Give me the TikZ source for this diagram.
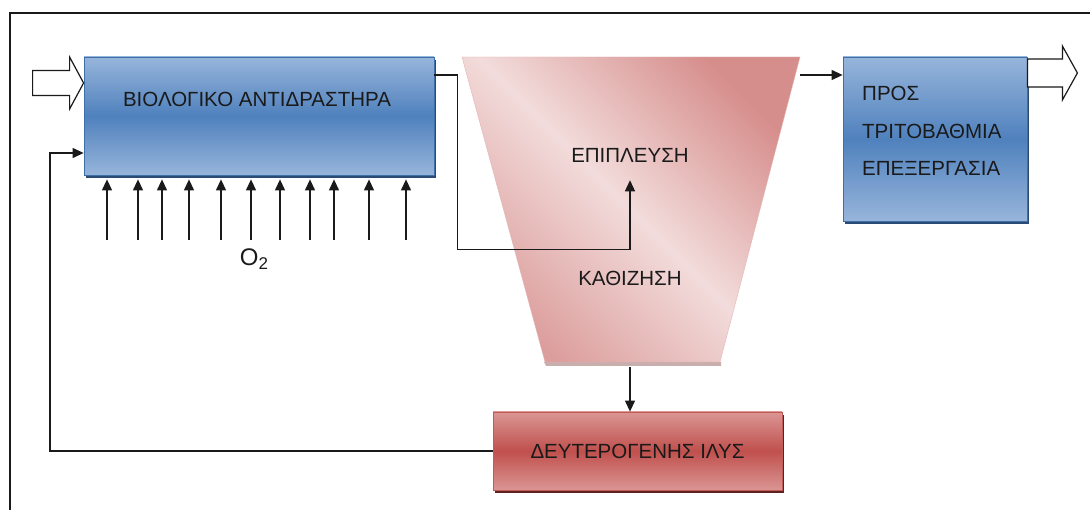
\documentclass[tikz,border=0pt]{standalone}
\usepackage{fontspec}
\setmainfont{Liberation Sans}
\usetikzlibrary{arrows.meta,calc,shadows}
\definecolor{bluelt}{HTML}{97B5DB}
\definecolor{bluedk}{HTML}{4F81BD}
\definecolor{blueln}{HTML}{3F6FA8}
\definecolor{bluesh}{HTML}{2A4B73}
\definecolor{redlt}{HTML}{DA9694}
\definecolor{reddk}{HTML}{C0504D}
\definecolor{redln}{HTML}{C25A57}
\definecolor{redsh}{HTML}{5E2221}
\definecolor{pinkdk}{HTML}{D68E8C}
\definecolor{pinklt}{HTML}{F2DCDB}
\definecolor{pinkln}{HTML}{E4B4B2}
\definecolor{pinksh}{HTML}{C8AEAD}
\definecolor{ink}{HTML}{1A1A1A}

\begin{document}
\begin{tikzpicture}[x=1pt,y=-1pt,
  txt/.style={font=\fontsize{20.5}{24}\selectfont,inner sep=0pt,text=ink},
  bluebox/.style={draw=blueln,line width=.8pt,top color=bluelt,bottom color=bluelt,middle color=bluedk,
    drop shadow={shadow xshift=2pt,shadow yshift=-3pt,fill=bluesh,opacity=1}},
  redbox/.style={draw=redln,line width=.8pt,top color=redlt,bottom color=redlt,middle color=reddk,
    drop shadow={shadow xshift=2pt,shadow yshift=-3pt,fill=redsh,opacity=1}},
  flow/.style={draw=ink,line width=1.2pt,-{Triangle[length=11pt,width=10pt]}},
  hollow/.style={draw=ink,line width=1.2pt,fill=white}]
\useasboundingbox (0,0) rectangle (1090,510);
% frame
\draw[ink,line width=1.3pt] (10,510) -- (10,13) -- (1090,13);

% boxes
\node[bluebox,minimum width=350pt,minimum height=118pt] (bio) at (259,116) {};
\node[txt] (biotxt) at (257,99) {ΒΙΟΛΟΓΙΚΟ ΑΝΤΙΔΡΑΣΤΗΡΑ};
\node[bluebox,minimum width=184pt,minimum height=164pt] (tert) at (935,139) {};
\node[txt,anchor=west,align=left,font=\fontsize{20.5}{37.5}\selectfont] (terttxt) at (862,131)
  {ΠΡΟΣ\\ΤΡΙΤΟΒΑΘΜΙΑ\\ΕΠΕΞΕΡΓΑΣΙΑ};
\node[redbox,minimum width=289pt,minimum height=78pt,txt] (sludge) at (637.5,451) {ΔΕΥΤΕΡΟΓΕΝΗΣ ΙΛΥΣ};

% settling tank
\coordinate (sepA) at (462,57);
\coordinate (sepB) at (800,57);
\coordinate (sepC) at (720,362);
\coordinate (sepD) at (545,362);
\fill[pinksh] ($(sepD)+(-1,0)$) -- ($(sepC)+(1,0)$) -- ($(sepC)+(1,4)$) -- ($(sepD)+(1,4)$) -- cycle;
\shade[draw=pinkln,top color=pinkdk,bottom color=pinkdk!80!pinklt,middle color=pinklt,shading angle=-45]
  (sepA) -- (sepB) -- (sepC) -- (sepD) -- cycle;
\node[txt] (float) at (630,155) {ΕΠΙΠΛΕΥΣΗ};
\node[txt] (settle) at (630,278) {ΚΑΘΙΖΗΣΗ};

% flows
\coordinate (inA) at (bio.west |- 0,83);
\draw[hollow] (inA) -- ++(-14,-26) -- ++(0,13.5) -- ++(-37,0) -- ++(0,25) -- ++(37,0) -- ++(0,13.5) -- cycle;
\coordinate (outA) at ($(tert.east |- 0,73)+(50,0)$);
\draw[hollow] (outA) -- ++(-15,-27) -- ++(0,13) -- ++(-35,0) -- ++(0,28) -- ++(35,0) -- ++(0,13) -- cycle;
\draw[flow] (bio.east |- 0,75) -- ++(23,0) |- ($(float.south)+(0,87)$) -- ($(float.south)+(0,18)$);
\draw[flow] (sepB |- 0,75) -- (tert.west |- 0,75);
\draw[flow] (settle.south |- 0,367) -- (settle.south |- sludge.north);
\draw[flow] (sludge.west) -| (50,153) -- (bio.west |- 0,153);
\foreach \x in {107,138,162,189,221,251,280,310,334,369,406}
  \draw[flow] (\x,240) -- ($(\x,0 |- bio.south)+(0,4)$);
\node[inner sep=0pt,text=ink,font=\fontsize{24}{28}\selectfont] (oxy) at (254,259)
  {O\raisebox{-.35ex}{\fontsize{17}{17}\selectfont 2}};
\end{tikzpicture}
\end{document}
